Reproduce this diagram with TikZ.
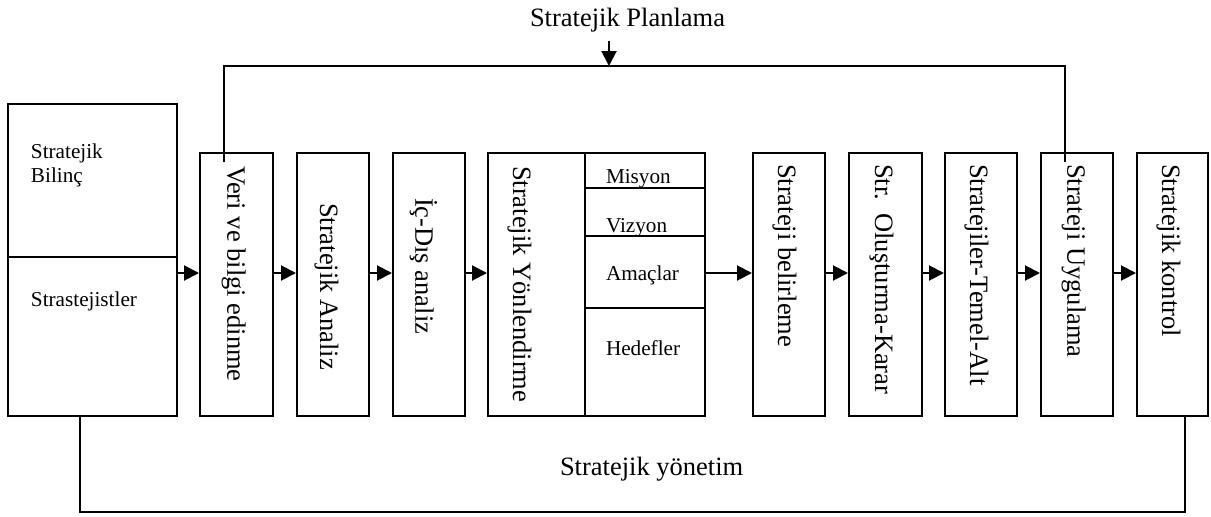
\documentclass[tikz,border=0pt]{standalone}
\usepackage{fontspec}
\setmainfont{Liberation Serif}
\usetikzlibrary{arrows.meta,fit}
\begin{document}
\begin{tikzpicture}[x=0.5pt,y=-0.5pt,
  line width=1pt,
  stage/.style={draw,rectangle,inner sep=0pt,fit={#1}},
  vlabel/.style={rotate=-90,anchor=west,inner sep=0pt,font=\fontsize{13.25}{16}\selectfont},
  hbig/.style={anchor=base west,inner sep=0pt,font=\fontsize{13.25}{16}\selectfont},
  hsmall/.style={anchor=base west,inner sep=0pt,font=\fontsize{10.6}{12}\selectfont},
  arr/.style={-{Triangle[length=7.5pt,width=7.5pt]}}]
\useasboundingbox (0,0) rectangle (1211,516);

% left block and the chain of stages
\node[stage={(8,104) (177,416)}]   (L)  {};
\node[stage={(200,153) (273,416)}] (B1) {};
\node[stage={(297,153) (369,416)}] (B2) {};
\node[stage={(393,153) (465,416)}] (B3) {};
\node[stage={(488,153) (705,416)}] (B4) {};
\node[stage={(753,153) (825,416)}] (B5) {};
\node[stage={(849,153) (922,416)}] (B6) {};
\node[stage={(945,153) (1017,416)}] (B7) {};
\node[stage={(1041,153) (1113,416)}] (B8) {};
\node[stage={(1137,153) (1208,416)}] (B9) {};

% helper coordinates
\coordinate (ay) at (0,273);
\coordinate (ldiv) at (0,257);
\coordinate (cx) at (585,0);
\coordinate (h1) at (0,188);
\coordinate (h2) at (0,236);
\coordinate (h3) at (0,308);

% inner dividers
\draw (L.west |- ldiv) -- (L.east |- ldiv);
\draw (B4.north -| cx) -- (B4.south -| cx);
\draw (cx |- h1) -- (B4.east |- h1);
\draw (cx |- h2) -- (B4.east |- h2);
\draw (cx |- h3) -- (B4.east |- h3);

% texts of the left block
\node[hsmall] (t1) at (30,158) {Stratejik};
\node[hsmall] (t2) at (30,182) {Bilinç};
\node[hsmall] (t3) at (30,306) {Strastejistler};

% texts of the directing cells
\node[hsmall] (m1) at (605,183) {Misyon};
\node[hsmall] (m2) at (605,232) {Vizyon};
\node[hsmall] (m3) at (605,280) {Amaçlar};
\node[hsmall] (m4) at (605,355) {Hedefler};

% vertical labels
\node[vlabel] (v1) at (233.6,165) {Veri ve bilgi edinme};
\node[vlabel] (v2) at (326.6,202) {Stratejik Analiz};
\node[vlabel] (v3) at (423.6,197) {İç-Dış analiz};
\node[vlabel] (v4) at (519.6,165) {Stratejik Yönlendirme};
\node[vlabel] (v5) at (784.6,163) {Strateji belirleme};
\node[vlabel] (v6) at (881.6,163) {Str.\ \ Oluşturma-Karar};
\node[vlabel] (v7) at (976.6,163) {Stratejiler-Temel-Alt};
\node[vlabel] (v8) at (1073.6,163) {Strateji Uygulama};
\node[vlabel] (v9) at (1168.6,163) {Stratejik kontrol};

% flow arrows
\draw[arr] (L.east |- ay) -- (B1.west |- ay);
\draw[arr] (B1.east |- ay) -- (B2.west |- ay);
\draw[arr] (B2.east |- ay) -- (B3.west |- ay);
\draw[arr] (B3.east |- ay) -- (B4.west |- ay);
\draw[arr] (B4.east |- ay) -- (B5.west |- ay);
\draw[arr] (B5.east |- ay) -- (B6.west |- ay);
\draw[arr] (B6.east |- ay) -- (B7.west |- ay);
\draw[arr] (B7.east |- ay) -- (B8.west |- ay);
\draw[arr] (B8.east |- ay) -- (B9.west |- ay);

% planning bracket
\node[hbig] (plan) at (529,26) {Stratejik Planlama};
\coordinate (pa) at (609,41);
\coordinate (pb) at (609,66);
\coordinate (pl) at (224,66);
\coordinate (pr) at (1065,66);
\coordinate (pld) at (224,162);
\coordinate (prd) at (1065,162);
\draw[arr] (pa) -- (pb);
\draw (pld) -- (pl) -- (pr) -- (prd);

% management bracket
\node[hbig] (mgmt) at (559,475) {Stratejik yönetim};
\coordinate (ml) at (80,512);
\coordinate (mr) at (1185,512);
\draw (L.south -| ml) -- (ml) -- (mr) -- (B9.south -| mr);
\end{tikzpicture}
\end{document}
